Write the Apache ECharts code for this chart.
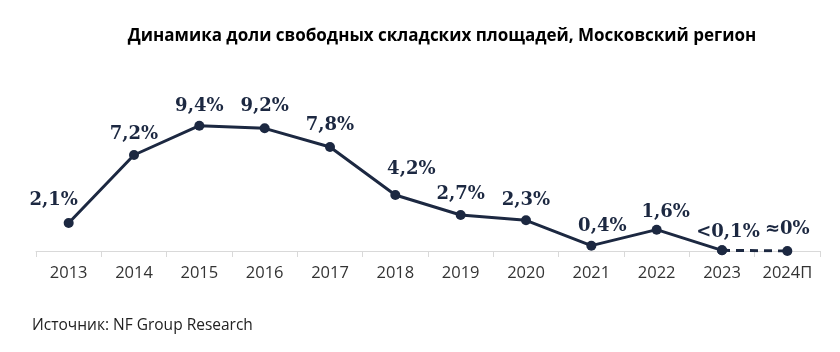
<!DOCTYPE html>
<html>
<head>
<meta charset="utf-8">
<script src="https://cdn.jsdelivr.net/npm/echarts@6/dist/echarts.min.js"></script>
<style>
html,body{margin:0;padding:0;background:#fff;}
#chart{width:840px;height:352px;}
</style>
</head>
<body>
<div id="chart"></div>
<script>
var years = ['2013','2014','2015','2016','2017','2018','2019','2020','2021','2022','2023','2024П'];
// доля свободных площадей, %
var vacancy = [2.1, 7.2, 9.4, 9.2, 7.8, 4.2, 2.7, 2.3, 0.4, 1.6, 0.05, 0];
var vacancyText = ['2,1%','7,2%','9,4%','9,2%','7,8%','4,2%','2,7%','2,3%','0,4%','1,6%','<0,1%','≈0%'];
var forecastFrom = 10; // с 2023 к прогнозу 2024 — пунктир

// подвижка подписей, как на исходной картинке
var labelShift = [[-15,-2],[0,0],[0,2],[0,-1],[0,-1],[16,-5],[0,0],[0,1],[11,2],[9,4],[6,3],[0,-1]];

var navy = '#1c2841';

function solidData() {
	return vacancy.map(function(v, i) {
		if (i > forecastFrom) return null;
		return {value: v, label: {formatter: vacancyText[i], offset: labelShift[i]}};
	});
}
function dashData() {
	return vacancy.map(function(v, i) {
		if (i < forecastFrom) return null;
		return {value: v, label: {formatter: vacancyText[i], offset: labelShift[i], show: i > forecastFrom}};
	});
}

var lbl = {show: true, position: 'top', distance: 7, fontFamily: 'DejaVu Serif', fontWeight: 'bold', fontSize: 18, color: navy};

var myChart = echarts.init(document.getElementById('chart'));
myChart.setOption({
	animation: false,
	title: {
		text: 'Динамика доли свободных складских площадей, Московский регион',
		left: 437, top: 23, textAlign: 'center',
		textStyle: {fontFamily: 'Open Sans', fontWeight: 'bold', fontSize: 17, color: '#000'}
	},
	graphic: [{
		type: 'text', left: 32, top: 318,
		style: {text: 'Источник: NF Group Research', font: '15.5px "Open Sans"', fill: '#222'}
	}],
	grid: {left: 36, right: 20, top: 91, height: 160},
	xAxis: {
		type: 'category', data: years, boundaryGap: true,
		axisLine: {lineStyle: {color: '#d9d9d9', width: 1}},
		axisTick: {show: true, length: 6, lineStyle: {color: '#d9d9d9'}},
		axisLabel: {margin: 14, fontFamily: 'Open Sans', fontSize: 16.5, color: '#333'}
	},
	yAxis: {type: 'value', min: 0, max: 12, show: false, splitLine: {show: false}},
	series: [{
		type: 'line', data: solidData(), connectNulls: false,
		symbol: 'circle', symbolSize: 10,
		lineStyle: {color: navy, width: 3}, itemStyle: {color: navy},
		label: lbl
	}, {
		type: 'line', data: dashData(),
		symbol: 'circle', symbolSize: 10,
		lineStyle: {color: navy, width: 3, type: [8, 6]}, itemStyle: {color: navy},
		label: lbl,
		z: 1
	}]
});
</script>
</body>
</html>
